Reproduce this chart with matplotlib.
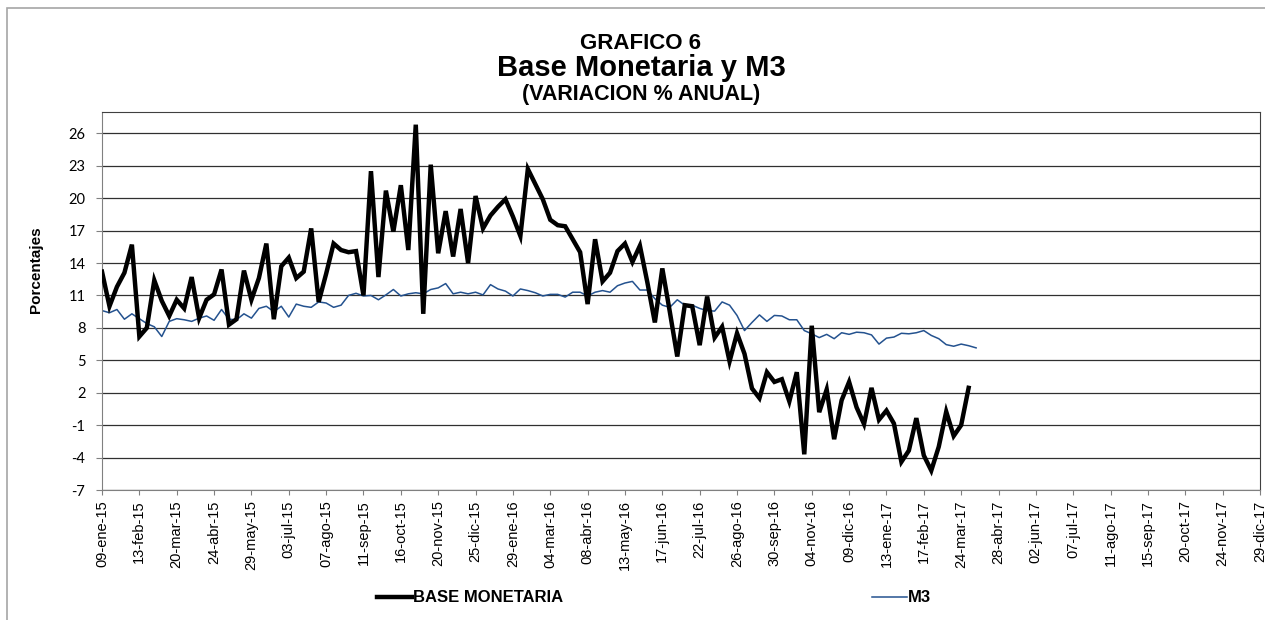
import matplotlib
matplotlib.use("Agg")
import matplotlib.pyplot as plt
import matplotlib.patches as patches
import numpy as np
import pandas as pd

# weekly annual % change, starting 09-ene-15
start = "2015-01-09"
base_monetaria = [
    13.2, 10.0, 11.8, 13.1, 15.7, 7.2, 8.0, 12.4, 10.5, 9.1,
    10.6, 9.8, 12.7, 8.9, 10.6, 11.1, 13.4, 8.3, 8.8, 13.3,
    10.6, 12.6, 15.8, 8.8, 13.7, 14.5, 12.6, 13.2, 17.2, 10.4,
    13.0, 15.8, 15.2, 15.0, 15.1, 11.0, 22.5, 12.7, 20.7, 16.9,
    21.2, 15.2, 26.8, 9.3, 23.1, 14.9, 18.8, 14.6, 19.0, 14.0,
    20.2, 17.2, 18.4, 19.2, 19.9, 18.3, 16.5, 22.7, 21.3, 19.9,
    18.0, 17.5, 17.4, 16.2, 15.0, 10.2, 16.2, 12.3, 13.1, 15.1,
    15.8, 14.1, 15.6, 12.2, 8.5, 13.5, 9.5, 5.35, 10.1, 10.0,
    6.4, 10.9, 7.1, 8.1, 4.9, 7.5, 5.6, 2.4, 1.5, 3.9,
    3.0, 3.25, 1.2, 3.9, -3.7, 8.2, 0.2, 2.3, -2.3, 1.3,
    3.0, 0.65, -0.9, 2.45, -0.5, 0.35, -0.85, -4.4, -3.35, -0.35,
    -3.8, -5.2, -3.0, 0.25, -2.0, -1.0, 2.45,
]
m3 = [
    9.6, 9.4, 9.7, 8.8, 9.3, 8.85, 8.4, 8.1, 7.2, 8.6,
    8.85, 8.75, 8.6, 8.9, 9.1, 8.7, 9.7, 8.8, 8.75, 9.3,
    8.9, 9.8, 10.0, 9.5, 10.0, 9.0, 10.2, 10.0, 9.9, 10.4,
    10.3, 9.9, 10.1, 11.0, 11.2, 10.95, 11.0, 10.6, 11.05, 11.55,
    10.95, 11.15, 11.25, 11.15, 11.55, 11.7, 12.1, 11.15, 11.3, 11.15,
    11.3, 11.05, 12.0, 11.6, 11.4, 10.95, 11.6, 11.45, 11.25, 10.95,
    11.1, 11.1, 10.85, 11.3, 11.3, 10.95, 11.3, 11.45, 11.3, 11.9,
    12.15, 12.3, 11.5, 11.5, 10.7, 10.1, 9.9, 10.6, 10.1, 10.1,
    9.8, 9.6, 9.55, 10.4, 10.1, 9.15, 7.75, 8.5, 9.2, 8.6,
    9.15, 9.1, 8.75, 8.75, 7.75, 7.45, 7.1, 7.4, 7.0, 7.55,
    7.4, 7.6, 7.55, 7.35, 6.5, 7.05, 7.15, 7.5, 7.45, 7.55,
    7.75, 7.3, 7.0, 6.45, 6.3, 6.5, 6.35, 6.15,
]
meses = ["ene", "feb", "mar", "abr", "may", "jun", "jul", "ago", "sep", "oct", "nov", "dic"]
y_ticks = [-7, -4, -1, 2, 5, 8, 11, 14, 17, 20, 23, 26]

dates_bm = pd.date_range(start, periods=len(base_monetaria), freq="7D")
dates_m3 = pd.date_range(start, periods=len(m3), freq="7D")
tick_dates = pd.date_range(start, "2017-12-29", freq="35D")
tick_labels = [f"{d.day:02d}-{meses[d.month - 1]}-{d.year % 100:02d}" for d in tick_dates]

plt.rcParams["font.family"] = ["Liberation Sans", "DejaVu Sans"]

fig = plt.figure(figsize=(12.65, 6.2), dpi=100)
ax = fig.add_axes([102 / 1265, 1 - 490 / 620, 1158 / 1265, (490 - 111.7) / 620])

# outer chart frame
fig.patches.append(patches.Rectangle((7 / 1265, -0.1), 1.2, 1.1 - 8 / 620,
                                     transform=fig.transFigure, fill=False,
                                     edgecolor="#a6a6a6", lw=1.2))

for y in y_ticks:
    ax.axhline(y, color="#303030", lw=0.9, zorder=1)

ax.plot(dates_bm, base_monetaria, color="black", lw=3.2, solid_joinstyle="miter",
        label="BASE MONETARIA", zorder=3)
ax.plot(dates_m3, m3, color="#24528f", lw=1.1, label="M3", zorder=2)

ax.set_xlim(tick_dates[0], tick_dates[-1])
ax.set_ylim(-7, 28)
ax.set_yticks(y_ticks)
ax.set_yticklabels([str(v) for v in y_ticks], fontsize=10.5, family=["Lato", "DejaVu Sans"])
ax.set_xticks(tick_dates)
ax.set_xticklabels(tick_labels, rotation=90, fontsize=10.5)
ax.tick_params(axis="y", length=4, pad=8, color="#808080")
ax.tick_params(axis="x", length=3.5, pad=4, color="#808080")
for s in ["left", "bottom"]:
    ax.spines[s].set_color("#808080")
for s in ["top", "right"]:
    ax.spines[s].set_color("#404040")

fig.text(36 / 1265, 1 - 270 / 620, "Porcentajes", rotation=90, ha="center", va="center",
         fontsize=11, fontweight="bold")

cx = 641 / 1265
fig.text(cx, 1 - 49 / 620, "GRAFICO 6", ha="center", va="baseline", fontsize=16, fontweight="bold")
fig.text(cx, 1 - 76 / 620, "Base Monetaria y M3", ha="center", va="baseline", fontsize=21,
         fontweight="bold")
fig.text(cx, 1 - 100 / 620, "(VARIACION % ANUAL)", ha="center", va="baseline", fontsize=15.5,
         fontweight="bold")

fig.legend(loc="center", bbox_to_anchor=(654 / 1265, 1 - 598 / 620), ncol=2, frameon=False,
           prop={"weight": "bold", "size": 12}, handlelength=2.1, handletextpad=0.1,
           columnspacing=18.5)

fig.savefig("out.png", dpi=100)
